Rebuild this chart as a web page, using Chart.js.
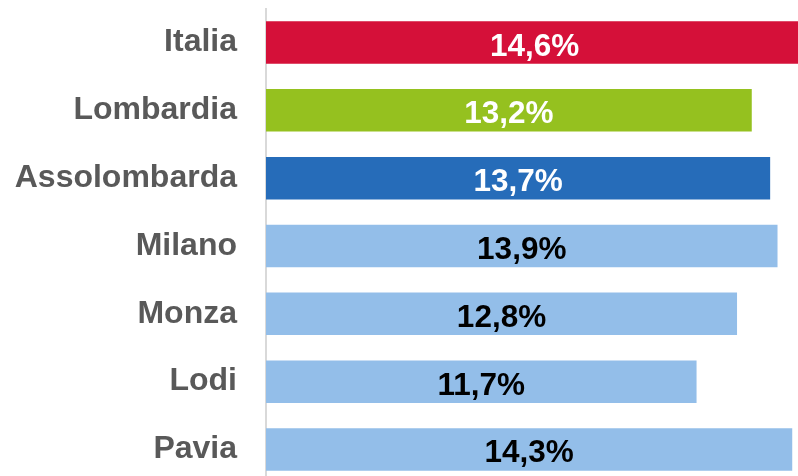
<!DOCTYPE html>
<html>
<head>
<meta charset="utf-8">
<script src="https://cdn.jsdelivr.net/npm/chart.js@4.4.1/dist/chart.umd.min.js"></script>
<style>
  html, body { margin: 0; padding: 0; background: #ffffff; overflow: hidden; width: 798px; height: 476px; }
  #wrap { position: absolute; left: 0; top: 0; width: 818px; height: 484px; }
</style>
</head>
<body>
<div id="wrap"><canvas id="c"></canvas></div>
<script>
const categories = ["Italia", "Lombardia", "Assolombarda", "Milano", "Monza", "Lodi", "Pavia"];
const values = [14.6, 13.2, 13.7, 13.9, 12.8, 11.7, 14.3];

// styles (kept apart from the data)
const barColors = ["#D51039", "#95C11F", "#266CB9", "#93BEE9", "#93BEE9", "#93BEE9", "#93BEE9"];
const valueTextColors = ["#FFFFFF", "#FFFFFF", "#FFFFFF", "#000000", "#000000", "#000000", "#000000"];
const FONT = "'Liberation Sans', Arial, Helvetica, sans-serif";

const valueLabels = {
  id: 'valueLabels',
  afterDatasetsDraw(chart) {
    const ctx = chart.ctx;
    const meta = chart.getDatasetMeta(0);
    ctx.save();
    ctx.font = "bold 31.5px " + FONT;
    ctx.textAlign = 'center';
    ctx.textBaseline = 'alphabetic';
    meta.data.forEach((bar, i) => {
      const p = bar.getProps(['x', 'y', 'base'], true);
      const cx = (p.x + p.base) / 2;
      ctx.fillStyle = valueTextColors[i];
      const txt = values[i].toFixed(1).replace('.', ',') + '%';
      ctx.fillText(txt, cx, p.y + 13);
    });
    ctx.restore();
  }
};

new Chart(document.getElementById('c'), {
  type: 'bar',
  data: {
    labels: categories,
    datasets: [{
      data: values,
      backgroundColor: barColors,
      borderWidth: 0,
      barPercentage: 0.627,
      categoryPercentage: 1.0
    }]
  },
  options: {
    indexAxis: 'y',
    responsive: true,
    maintainAspectRatio: false,
    animation: false,
    layout: { padding: { top: 8.6, bottom: 0.6, left: 0, right: 0 } },
    plugins: { legend: { display: false }, tooltip: { enabled: false } },
    scales: {
      x: {
        display: false,
        min: 0,
        max: 15
      },
      y: {
        afterFit(scale) {
          scale.width = 266;
          scale.paddingTop = 0;
          scale.paddingBottom = 0;
        },
        grid: { display: false, drawTicks: false },
        border: { display: true, color: '#D9D9D9', width: 2 },
        ticks: {
          padding: 29,
          color: '#595959',
          font: { family: FONT, size: 32, weight: 'bold' }
        }
      }
    }
  },
  plugins: [valueLabels]
});
</script>
</body>
</html>
